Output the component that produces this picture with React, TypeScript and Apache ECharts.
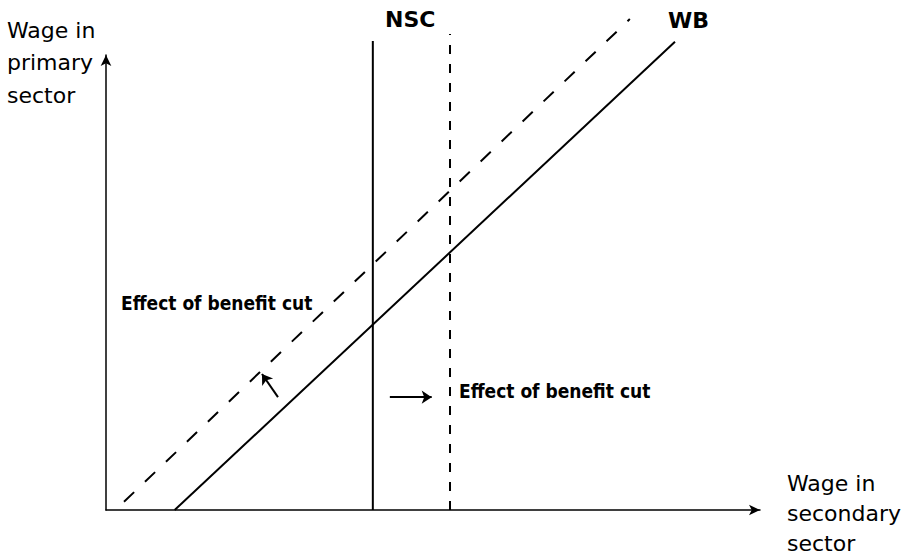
import React, { useEffect, useRef } from "react";
import * as echarts from "echarts";

// Curve endpoints (x, y in diagram units 0..100)
const wbLine: [number, number][] = [[10.5, 0], [87.0, 102.9]];
const wbShifted: [number, number][] = [[2.75, 1.8], [80.1, 107.9]];
const nscLine: [number, number][] = [[40.8, 0], [40.8, 103.1]];
const nscShifted: [number, number][] = [[52.6, 0], [52.6, 104.6]];
const arrowWB: [number, number][] = [[26.3, 24.8], [23.85, 29.9]];
const arrowNSC: [number, number][] = [[43.4, 24.8], [49.8, 24.8]];

const yAxisLabel = "Wage in\nprimary\nsector";
const xAxisLabel = "Wage in\nsecondary\nsector";
const curveLabels = ["NSC", "WB"];
const effectLabel = "Effect of benefit cut";

const condensed = "'DejaVu Sans Condensed', 'Liberation Sans Narrow', 'DejaVu Sans', sans-serif";

export default function App() {
  const ref = useRef<HTMLDivElement>(null);
  useEffect(() => {
    document.body.style.margin = "0";
    const chart = echarts.init(ref.current!, null, { renderer: "svg" });
    const lineStyleSolid = { color: "#000", width: 2, type: "solid" as const };
    chart.setOption({
      animation: false,
      backgroundColor: "#fff",
      grid: { left: 106, right: 162, top: 55, bottom: 49 },
      xAxis: {
        type: "value",
        min: 0,
        max: 100,
        axisLine: { show: true, symbol: ["none", "arrow"], symbolSize: [8, 11], lineStyle: { color: "#000", width: 1.5 } },
        axisTick: { show: false },
        axisLabel: { show: false },
        splitLine: { show: false },
      },
      yAxis: {
        type: "value",
        min: 0,
        max: 100,
        axisLine: { show: true, symbol: ["none", "arrow"], symbolSize: [8, 11], lineStyle: { color: "#000", width: 1.5 } },
        axisTick: { show: false },
        axisLabel: { show: false },
        splitLine: { show: false },
      },
      series: [
        { type: "line", data: wbLine, symbol: "none", clip: false, lineStyle: lineStyleSolid },
        { type: "line", data: wbShifted, symbol: "none", clip: false, lineStyle: { color: "#000", width: 2, type: [14, 15] } },
        { type: "line", data: nscLine, symbol: "none", clip: false, lineStyle: lineStyleSolid },
        { type: "line", data: nscShifted, symbol: "none", clip: false, lineStyle: { color: "#000", width: 2, type: [9, 10] } },
        {
          type: "lines",
          coordinateSystem: "cartesian2d",
          symbol: ["none", "arrow"],
          symbolSize: 10,
          lineStyle: { color: "#000", width: 2, opacity: 1 },
          data: [{ coords: arrowWB }, { coords: arrowNSC }],
        },
      ],
      graphic: [
        { type: "text", left: 7, top: 14, style: { text: yAxisLabel, font: "22px 'DejaVu Sans', sans-serif", lineHeight: 32.5, fill: "#000" } },
        { type: "text", left: 787, top: 468, style: { text: xAxisLabel, font: "22px 'DejaVu Sans', sans-serif", lineHeight: 30, fill: "#000" } },
        { type: "text", left: 385, top: 8, style: { text: curveLabels[0], font: "bold 22px 'DejaVu Sans', sans-serif", fill: "#000" } },
        { type: "text", left: 668, top: 9, style: { text: curveLabels[1], font: "bold 22px 'DejaVu Sans', sans-serif", fill: "#000" } },
        { type: "text", left: 121, top: 293, style: { text: effectLabel, font: "bold 19px " + condensed, fill: "#000" } },
        { type: "text", left: 459, top: 381, style: { text: effectLabel, font: "bold 19px " + condensed, fill: "#000" } },
      ],
    });
    return () => chart.dispose();
  }, []);
  return <div ref={ref} style={{ width: 922, height: 559 }} />;
}
